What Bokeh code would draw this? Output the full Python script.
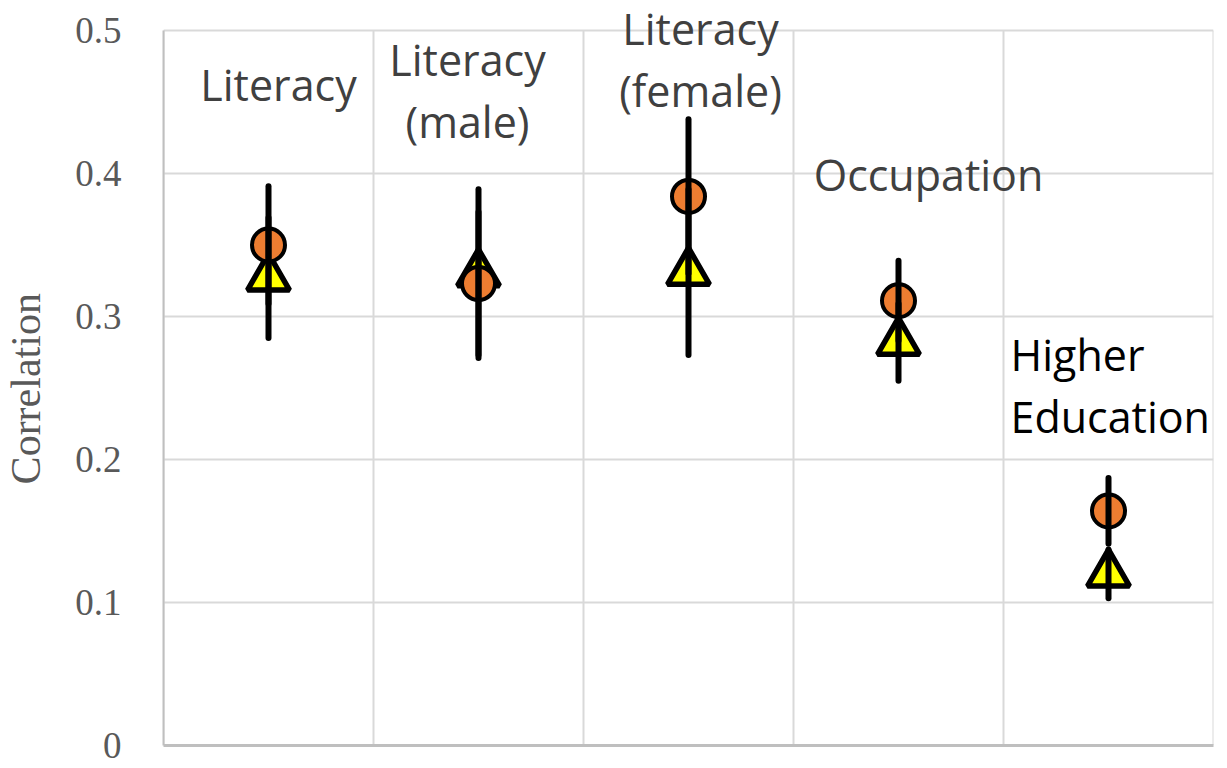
from bokeh.plotting import figure
from bokeh.models import Range1d, FixedTicker, Label
from bokeh.embed import file_html
from bokeh.resources import INLINE

# ---- data ----
categories = ["Literacy", "Literacy (male)", "Literacy (female)", "Occupation", "Higher Education"]
label_lines = [["Literacy"], ["Literacy", "(male)"], ["Literacy", "(female)"], ["Occupation"], ["Higher", "Education"]]
circle_values = [0.350, 0.323, 0.384, 0.311, 0.164]
circle_errors = [0.041, 0.050, 0.054, 0.028, 0.023]
triangle_values = [0.327, 0.330, 0.331, 0.282, 0.120]
triangle_errors = [0.042, 0.059, 0.058, 0.027, 0.017]
y_ticks = [0, 0.1, 0.2, 0.3, 0.4, 0.5]
y_tick_labels = ["0", "0.1", "0.2", "0.3", "0.4", "0.5"]
y_title = "Correlation"

# ---- label placement / layout (style) ----
label_y = [0.462, 0.458, 0.4800, 0.3995, 0.2515]
label_dx = [10, -11, 12, 30, -98]
label_align = ["center", "center", "center", "center", "left"]
label_color = ["#404040", "#404040", "#404040", "#404040", "#000000"]
line_step = 0.0434
FRAME_W = 1050
PLOT_H = 715          # height of the 0..0.5 area in px
TOP_PAD = 30          # free room above 0.5 inside the frame (for labels)
LABEL_FONT, LABEL_SIZE = "Open Sans", "43px"
GRID_COLOR = "#d9d9d9"

n = len(categories)
xs = [i + 0.5 for i in range(n)]
y_min, y_max = y_ticks[0], y_ticks[-1]
px_per_unit = PLOT_H / (y_max - y_min)
y_end = y_max + TOP_PAD / px_per_unit

p = figure(frame_width=FRAME_W, frame_height=PLOT_H + TOP_PAD,
           x_range=Range1d(0, n), y_range=Range1d(y_min, y_end),
           output_backend="svg", toolbar_location=None,
           min_border_left=163, min_border_top=0, min_border_right=6, min_border_bottom=22)
p.outline_line_color = None
p.background_fill_color = "white"

# grid: horizontal lines at the ticks, vertical category separators up to 0.5
p.xgrid.visible = False
p.ygrid.ticker = FixedTicker(ticks=y_ticks)
p.ygrid.grid_line_color = GRID_COLOR
p.ygrid.grid_line_width = 2
bounds = list(range(n + 1))
p.segment(bounds, [y_min] * len(bounds), bounds, [y_max] * len(bounds),
          line_color=GRID_COLOR, line_width=2, level="underlay")

# y axis
p.yaxis.ticker = FixedTicker(ticks=y_ticks)
p.yaxis.bounds = (y_min, y_max)
p.yaxis.major_label_overrides = dict(zip(y_ticks, y_tick_labels))
p.yaxis.major_label_text_font = "Liberation Serif"
p.yaxis.major_label_text_font_size = "37px"
p.yaxis.major_label_text_color = "#595959"
p.yaxis.major_label_standoff = 36
p.yaxis.major_tick_line_color = None
p.yaxis.minor_tick_line_color = None
p.yaxis.axis_line_color = "#bfbfbf"
p.yaxis.axis_line_width = 2
# non-breaking spaces keep the title centred on the 0..0.5 span rather than the whole frame
p.yaxis.axis_label = y_title + "\u00a0" * 3
p.yaxis.axis_label_text_font = "Liberation Serif"
p.yaxis.axis_label_text_font_size = "42px"
p.yaxis.axis_label_text_font_style = "normal"
p.yaxis.axis_label_text_color = "#595959"
p.yaxis.axis_label_standoff = 23

# x axis (no labels)
p.xaxis.ticker = FixedTicker(ticks=bounds)
p.xaxis.major_label_overrides = {i: "" for i in bounds}
p.xaxis.major_label_standoff = 0
p.xaxis.major_tick_line_color = None
p.xaxis.minor_tick_line_color = None
p.xaxis.axis_line_color = "#bfbfbf"
p.xaxis.axis_line_width = 3

# markers
p.scatter(xs, triangle_values, marker="triangle", size=42,
          fill_color="#FFFF00", line_color="black", line_width=5.5)
p.scatter(xs, circle_values, marker="circle", size=33,
          fill_color="#ED7D31", line_color="black", line_width=4)

# error bars
p.segment(xs, [v - e for v, e in zip(triangle_values, triangle_errors)],
          xs, [v + e for v, e in zip(triangle_values, triangle_errors)],
          line_color="black", line_width=6, line_cap="round")
p.segment(xs, [v - e for v, e in zip(circle_values, circle_errors)],
          xs, [v + e for v, e in zip(circle_values, circle_errors)],
          line_color="black", line_width=6, line_cap="round")

# category labels
for i, lines in enumerate(label_lines):
    k = len(lines)
    for j, t in enumerate(lines):
        yy = label_y[i] - (j - (k - 1) / 2) * line_step
        p.add_layout(Label(x=xs[i], y=yy, x_offset=label_dx[i], text=t,
                           text_font=LABEL_FONT, text_font_size=LABEL_SIZE,
                           text_color=label_color[i], text_align=label_align[i],
                           text_baseline="middle"))

open("out.html", "w").write(file_html(p, INLINE))
